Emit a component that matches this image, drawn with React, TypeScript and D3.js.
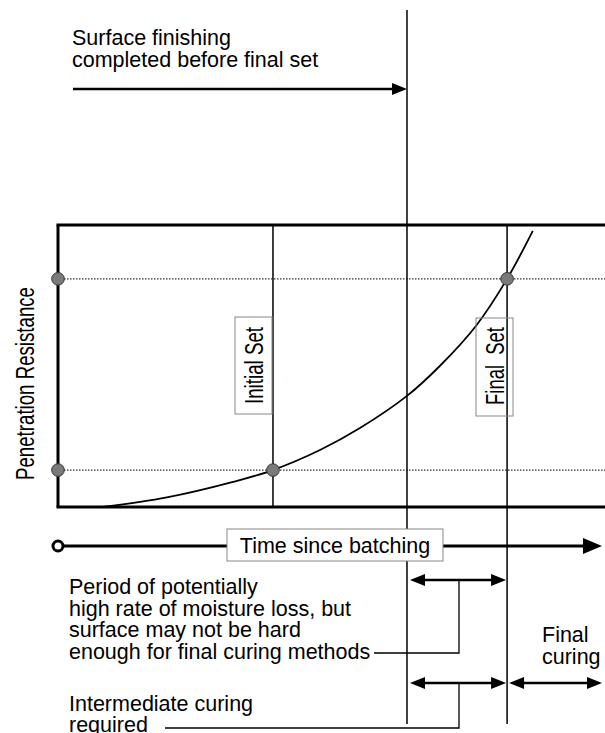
import React from "react";
import * as d3 from "d3";

// ---- data (time and resistance in relative units, 0-100) ----
const curveTime = [8.2, 19.9, 32.0, 39.3, 47.9, 55.2, 63.8, 69.8, 76.4, 82.1, 86.8];
const curveResistance = [0, 3.4, 8.9, 13.1, 20.2, 28.0, 39.4, 50.0, 64.2, 80.9, 97.9];
const setNames = ["Initial Set", "Final  Set"];
const setTimes = [39.3, 82.1];
const setResistances = [13.1, 80.9];
const finishingTime = 63.8;
const axisTitle = "Time since batching";
const yTitle = "Penetration Resistance";
const topNote = ["Surface finishing", "completed before final set"];
const periodNote = [
  "Period of potentially",
  "high rate of moisture loss, but",
  "surface may not be hard",
  "enough for final curing methods",
];
const interNote = ["Intermediate curing", "required"];
const finalNote = ["Final", "curing"];

const W = 605;
const H = 733;
const FONT = "'Liberation Sans', Arial, sans-serif";

const x = d3.scaleLinear().domain([0, 100]).range([58, 605]);
const y = d3.scaleLinear().domain([0, 100]).range([507, 225]);

function Head({ tipX, tipY, dir, len = 15, half = 6 }: { tipX: number; tipY: number; dir: number; len?: number; half?: number }) {
  const bx = tipX - dir * len;
  return <polygon points={`${tipX},${tipY} ${bx},${tipY - half} ${bx},${tipY + half}`} fill="#000" />;
}

function DoubleArrow({ x1, x2, yy }: { x1: number; x2: number; yy: number }) {
  return (
    <g>
      <line x1={x1 + 8} x2={x2 - 8} y1={yy} y2={yy} stroke="#000" strokeWidth={2.5} />
      <Head tipX={x1} tipY={yy} dir={-1} />
      <Head tipX={x2} tipY={yy} dir={1} />
    </g>
  );
}

export default function App() {
  const pts = curveTime.map((t, i) => [t, curveResistance[i]] as [number, number]);
  const line = d3
    .line<[number, number]>()
    .x((d) => x(d[0]))
    .y((d) => y(d[1]))
    .curve(d3.curveCatmullRom.alpha(0.5));

  const xLeft = x(0);
  const xRight = x(100);
  const yTop = y(100);
  const yBot = y(0);
  const xi = x(setTimes[0]);
  const xf = x(setTimes[1]);
  const xFin = x(finishingTime);
  const axisY = 546;

  const textStyle = { fontFamily: FONT, fontSize: 21.5, fill: "#000" } as const;

  return (
    <svg width={W} height={H} style={{ position: "absolute", left: 0, top: 0, background: "#fff" }}>
      <rect x={0} y={0} width={W} height={H} fill="#fff" />
      {/* top note */}
      {topNote.map((s, i) => (
        <text key={s} x={72} y={45 + i * 22} {...textStyle}>
          {s}
        </text>
      ))}
      <line x1={73} x2={395} y1={89} y2={89} stroke="#000" strokeWidth={2.5} />
      <Head tipX={xFin} tipY={89} dir={1} />

      {/* dotted set levels */}
      {setResistances.map((r) => (
        <line key={r} x1={xLeft} x2={xRight} y1={y(r)} y2={y(r)} stroke="#333" strokeWidth={1.3} strokeDasharray="1.5 1.5" />
      ))}

      {/* vertical lines */}
      <line x1={xi} x2={xi} y1={yTop} y2={yBot} stroke="#000" strokeWidth={1.5} />
      <line x1={xFin} x2={xFin} y1={10} y2={724} stroke="#000" strokeWidth={1.5} />
      <line x1={xf} x2={xf} y1={yTop} y2={724} stroke="#000" strokeWidth={1.5} />

      {/* frame */}
      <line x1={xLeft - 1.5} x2={xRight} y1={yTop} y2={yTop} stroke="#000" strokeWidth={3} />
      <line x1={xLeft - 1.5} x2={xRight} y1={yBot} y2={yBot} stroke="#000" strokeWidth={3} />
      <line x1={xLeft} x2={xLeft} y1={yTop} y2={yBot} stroke="#000" strokeWidth={3} />

      {/* curve */}
      <path d={line(pts) || ""} fill="none" stroke="#000" strokeWidth={1.8} />

      {/* set labels */}
      <rect x={235} y={317} width={37} height={97} fill="#fff" stroke="#888" strokeWidth={1} />
      <text
        transform={`translate(263,365.5) rotate(-90)`}
        textAnchor="middle"
        fontFamily={FONT}
        fontSize={25}
        textLength={77}
        lengthAdjust="spacingAndGlyphs"
      >
        {setNames[0]}
      </text>
      <rect x={476} y={318} width={37} height={98} fill="none" stroke="#888" strokeWidth={1} />
      <text
        transform={`translate(503.5,366) rotate(-90)`}
        textAnchor="middle"
        fontFamily={FONT}
        fontSize={25}
        textLength={78}
        lengthAdjust="spacingAndGlyphs"
        style={{ whiteSpace: "pre" }}
      >
        {setNames[1]}
      </text>

      {/* y title */}
      <text
        transform={`translate(33.5,383.5) rotate(-90)`}
        textAnchor="middle"
        fontFamily={FONT}
        fontSize={25}
        textLength={193}
        lengthAdjust="spacingAndGlyphs"
      >
        {yTitle}
      </text>

      {/* set dots */}
      {setResistances.map((r, i) => (
        <g key={i}>
          <circle cx={xLeft} cy={y(r)} r={6.3} fill="#7a7a7a" stroke="#333" strokeWidth={1} />
          <circle cx={x(setTimes[i])} cy={y(r)} r={6.3} fill="#7a7a7a" stroke="#333" strokeWidth={1} />
        </g>
      ))}

      {/* time axis */}
      <line x1={xLeft} x2={586} y1={axisY} y2={axisY} stroke="#000" strokeWidth={3} />
      <Head tipX={602} tipY={axisY} dir={1} len={19} half={8} />
      <circle cx={xLeft} cy={axisY} r={5} fill="#fff" stroke="#000" strokeWidth={3} />
      <rect x={227} y={529} width={216} height={32} fill="#fff" stroke="#888" strokeWidth={1} />
      <text x={335} y={553} textAnchor="middle" {...textStyle}>
        {axisTitle}
      </text>

      {/* lower notes */}
      {periodNote.map((s, i) => (
        <text key={s} x={69} y={594 + i * 21.5} {...textStyle}>
          {s}
        </text>
      ))}
      {interNote.map((s, i) => (
        <text key={s} x={69} y={711 + i * 21} {...textStyle}>
          {s}
        </text>
      ))}
      {finalNote.map((s, i) => (
        <text key={s} x={542} y={642 + i * 21.5} {...textStyle}>
          {s}
        </text>
      ))}

      <DoubleArrow x1={xFin + 3} x2={xf - 1} yy={580} />
      <DoubleArrow x1={xFin + 3} x2={xf - 1} yy={683} />
      <DoubleArrow x1={xf + 2} x2={602} yy={683} />

      {/* brackets */}
      <polyline points={`459,580 459,653 374,653`} fill="none" stroke="#000" strokeWidth={1.3} />
      <polyline points={`459,683 459,728 165,728`} fill="none" stroke="#000" strokeWidth={1.3} />
    </svg>
  );
}
